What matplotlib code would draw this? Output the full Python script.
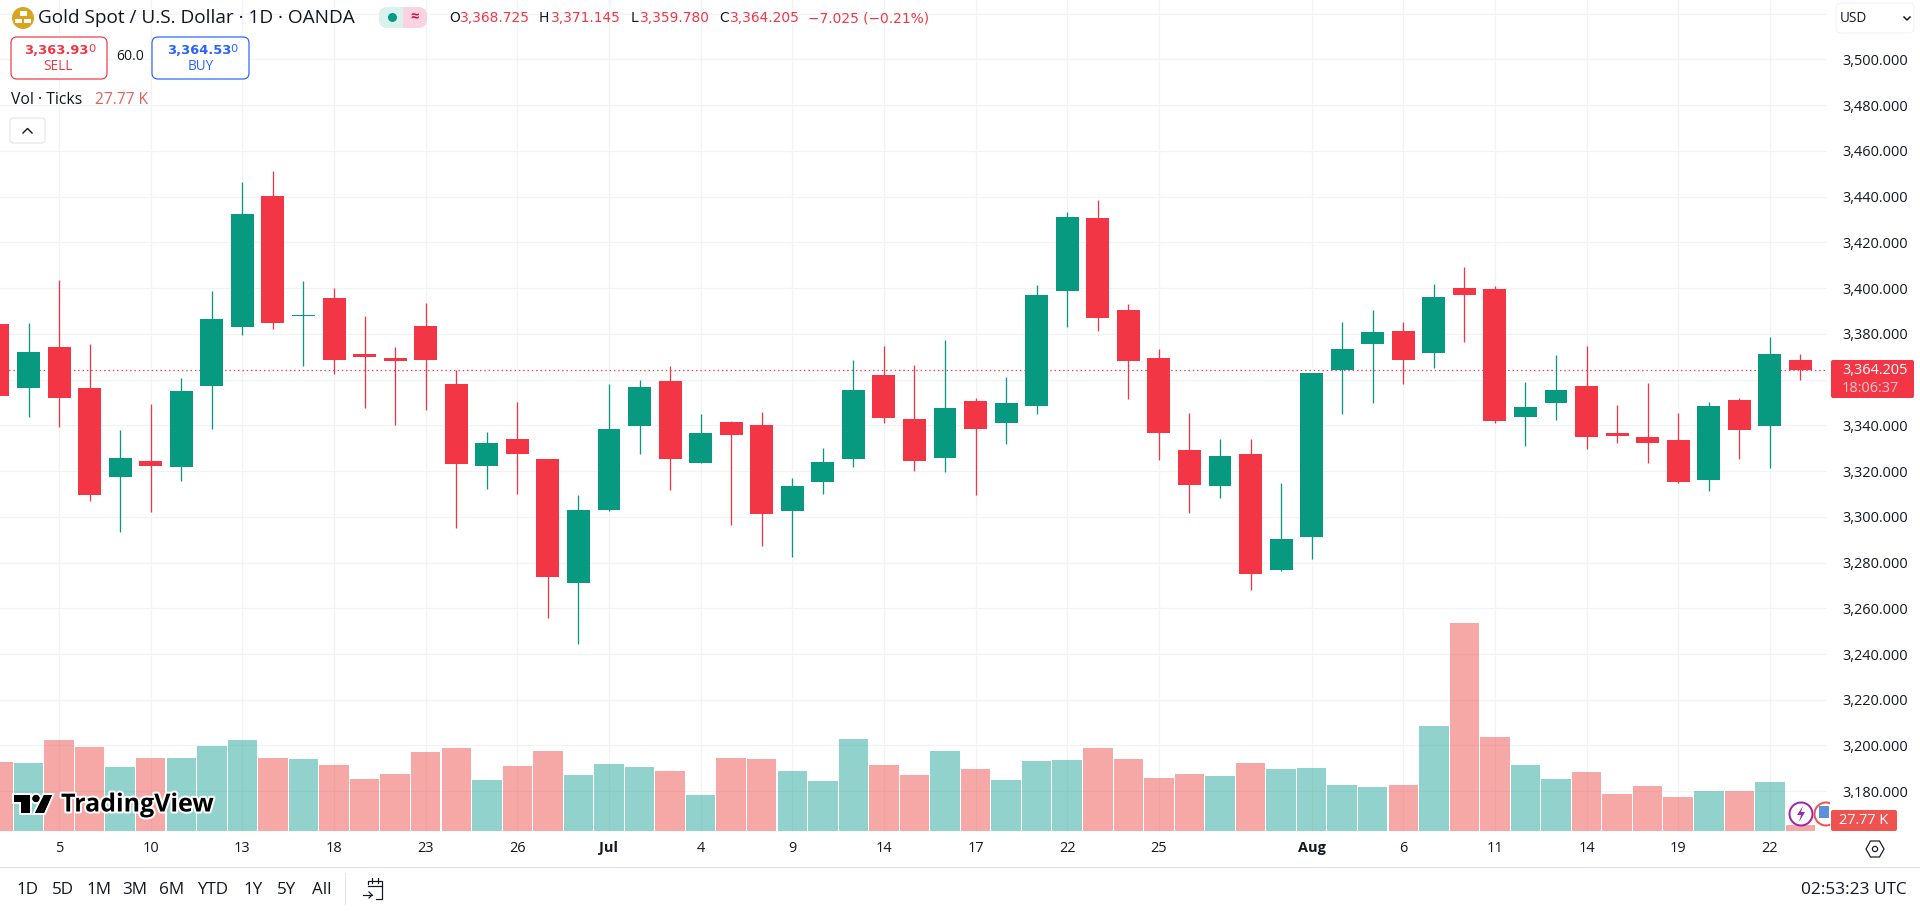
"""Gold spot daily candles with tick volume, TradingView style."""

import matplotlib

matplotlib.use("Agg")

import matplotlib.patheffects as pe
import matplotlib.pyplot as plt
from matplotlib.patches import Circle, FancyBboxPatch, Polygon, Rectangle

plt.rcParams["font.family"] = ["Open Sans", "DejaVu Sans"]

opens = [3384.3, 3356.3, 3374.3, 3356.3, 3317.4, 3324.4, 3321.8, 3357.2, 3383.0, 3440.3,
         3388.0, 3395.7, 3371.2, 3369.5, 3383.4, 3358.1, 3322.2, 3334.0, 3325.3, 3271.2,
         3303.0, 3339.7, 3359.4, 3323.5, 3341.5, 3340.2, 3302.6, 3315.2, 3325.3, 3362.0,
         3342.8, 3325.7, 3350.7, 3341.0, 3348.5, 3398.8, 3430.7, 3390.4, 3369.5, 3329.2,
         3313.5, 3327.5, 3276.8, 3291.2, 3364.2, 3375.6, 3381.3, 3371.6, 3400.1, 3399.6,
         3343.7, 3349.8, 3357.2, 3336.7, 3334.9, 3333.6, 3316.1, 3351.1, 3339.7, 3368.725]
highs = [3384.3, 3384.9, 3403.6, 3375.6, 3338.0, 3349.3, 3360.7, 3398.8, 3446.4, 3451.4,
         3403.1, 3400.1, 3388.0, 3374.3, 3393.7, 3364.2, 3337.1, 3350.2, 3325.3, 3309.6,
         3358.1, 3359.8, 3366.0, 3345.0, 3341.9, 3345.8, 3317.0, 3330.1, 3368.6, 3374.7,
         3366.4, 3377.3, 3352.0, 3361.1, 3401.4, 3433.3, 3438.5, 3393.1, 3373.4, 3345.4,
         3334.0, 3334.0, 3314.9, 3362.9, 3385.2, 3390.4, 3385.2, 3401.8, 3409.2, 3400.9,
         3359.0, 3370.8, 3374.7, 3348.9, 3358.5, 3345.4, 3350.2, 3352.0, 3378.6, 3371.145]
lows = [3352.8, 3343.5, 3339.1, 3306.9, 3293.4, 3302.1, 3315.7, 3338.4, 3379.5, 3382.1,
        3366.0, 3362.5, 3347.6, 3340.2, 3346.7, 3295.1, 3312.2, 3310.0, 3255.8, 3244.5,
        3302.7, 3327.5, 3311.7, 3323.5, 3296.4, 3287.3, 3282.4, 3310.0, 3321.8, 3341.0,
        3320.0, 3319.6, 3309.6, 3331.9, 3345.0, 3383.0, 3381.3, 3351.5, 3324.9, 3301.7,
        3308.2, 3268.0, 3276.5, 3281.6, 3345.0, 3349.8, 3358.1, 3365.1, 3376.5, 3341.0,
        3331.0, 3342.3, 3329.7, 3332.3, 3323.5, 3314.8, 3311.3, 3325.3, 3321.4, 3359.78]
closes = [3352.8, 3372.1, 3352.0, 3309.6, 3325.7, 3322.2, 3355.0, 3386.5, 3432.4, 3384.8,
          3388.4, 3368.6, 3369.9, 3368.1, 3368.6, 3323.1, 3332.3, 3327.5, 3273.8, 3303.0,
          3338.4, 3356.8, 3325.3, 3336.7, 3335.8, 3301.2, 3313.5, 3324.0, 3355.5, 3343.2,
          3324.4, 3347.6, 3338.4, 3349.8, 3397.0, 3431.1, 3386.9, 3368.1, 3336.7, 3313.9,
          3326.6, 3275.0, 3290.3, 3362.9, 3373.4, 3380.8, 3368.6, 3396.1, 3397.0, 3341.9,
          3348.0, 3355.5, 3334.9, 3335.4, 3332.3, 3315.2, 3348.5, 3338.0, 3371.2, 3364.205]
volumes_k = [334.5, 329.7, 441.7, 407.6, 310.2, 354.0, 354.0, 412.5, 441.7, 354.0,
             349.2, 319.9, 251.7, 276.1, 383.3, 402.8, 246.8, 315.1, 388.1, 271.2,
             324.8, 310.2, 290.7, 173.8, 354.0, 349.2, 290.7, 242.0, 446.6, 319.9,
             271.2, 388.1, 300.4, 246.8, 339.4, 344.3, 402.8, 349.2, 256.6, 276.1,
             266.3, 329.7, 300.4, 305.3, 222.5, 212.7, 222.5, 509.9, 1011.8, 456.3,
             319.9, 251.7, 285.8, 178.6, 217.6, 164.0, 193.3, 193.3, 237.1, 27.77]

date_tick_idx = [2, 5, 8, 11, 14, 17, 20, 23, 26, 29, 32, 35, 38, 43, 46, 49, 52, 55, 58]
date_tick_labels = ["5", "10", "13", "18", "23", "26", "Jul", "4", "9", "14", "17", "22", "25",
                    "Aug", "6", "11", "14", "19", "22"]
month_labels = ["Jul", "Aug"]
price_ticks = list(range(3180, 3521, 20))
unlabelled_prices = [3360, 3520]  # sit behind the price tag and the currency box
last_price = 3364.205
range_buttons = ["1D", "5D", "1M", "3M", "6M", "YTD", "1Y", "5Y", "All"]

UP = "#089981"
DOWN = "#f23645"
VOL_UP = "#26a69a"
VOL_DOWN = "#ef5350"
GRID = "#f2f3f5"
INK = "#131722"
BLUE = "#2962ff"
WIDE = ["DejaVu Sans"]

W, H = 1920, 911
PANE_RIGHT, PANE_BOTTOM = 1827, 831
FS = 0.72  # px -> pt at dpi 100

fig = plt.figure(figsize=(W / 100, H / 100), dpi=100, facecolor="white")
pane = [0, 1 - PANE_BOTTOM / H, PANE_RIGHT / W, PANE_BOTTOM / H]

# volume lives underneath, and also carries the grid
ax_vol = fig.add_axes(pane, zorder=1)
ax = fig.add_axes(pane, zorder=2, facecolor="none")

x = list(range(len(opens)))
is_up = [c >= o for o, c in zip(opens, closes)]

ax_vol.bar(x, volumes_k, width=0.965,
           color=[VOL_UP if u else VOL_DOWN for u in is_up], alpha=0.5, linewidth=0, zorder=3)
ax_vol.set_ylim(0, 4047)
ax_vol.set_yticks([])

xlim = (0.0655, 59.87)
ylim = (3162.6, 3526.0)
ax_vol.set_xlim(*xlim)
ax_vol.set_xticks([])
for i in date_tick_idx:
    ax_vol.axvline(i, color=GRID, lw=1.2 * FS, zorder=1)

ax.set_xlim(*xlim)
ax.set_ylim(*ylim)
for p in price_ticks:
    ax_vol.axhline((p - ylim[0]) / (ylim[1] - ylim[0]) * 4047, color=GRID, lw=1.2 * FS, zorder=1)

ax.axhline(last_price, color=DOWN, lw=1.2 * FS, ls=(0, (1.2, 2.4)), zorder=2)
ax.vlines(x, lows, highs, colors=[UP if u else DOWN for u in is_up], lw=1.3 * FS, zorder=3)
ax.bar(x, [abs(c - o) for o, c in zip(opens, closes)], bottom=[min(o, c) for o, c in zip(opens, closes)],
       width=0.75, color=[UP if u else DOWN for u in is_up], linewidth=0, zorder=4)

ax.yaxis.tick_right()
ax.set_yticks(price_ticks)
ax.set_yticklabels(["" if p in unlabelled_prices else f"{p:,.3f}" for p in price_ticks])
ax.tick_params(axis="y", length=0, pad=15 * FS, labelsize=14.5 * FS, labelcolor=INK)
ax.set_xticks(date_tick_idx)
ax.set_xticklabels(date_tick_labels)
ax.tick_params(axis="x", length=0, pad=10 * FS, labelsize=14.5 * FS, labelcolor=INK)
for lbl in ax.get_xticklabels():
    if lbl.get_text() in month_labels:
        lbl.set_fontweight("bold")
for a in (ax, ax_vol):
    for s in a.spines.values():
        s.set_visible(False)

# everything around the chart, in pixel coordinates
ui = fig.add_axes([0, 0, 1, 1], zorder=5, facecolor="none")
ui.set_xlim(0, W)
ui.set_ylim(H, 0)
ui.axis("off")


def label(px, py, s, size=14.5, color=INK, ha="left", weight="normal", **kw):
    return ui.text(px, py, s, fontsize=size * FS, color=color, ha=ha, va="center", fontweight=weight, **kw)


def box(x0, y0, x1, y1, fc="white", ec="none", r=4, lw=1.0):
    ui.add_patch(FancyBboxPatch((x0 + r, y0 + r), x1 - x0 - 2 * r, y1 - y0 - 2 * r,
                                boxstyle=f"round,pad={r},rounding_size={r}",
                                fc=fc, ec=ec, lw=lw * FS))


# title row
ui.add_patch(Circle((23, 18), 11, fc="#d9a520", ec="none"))
for bx, by in [(23, 13.5), (18.5, 21), (27.5, 21)]:
    ui.add_patch(Rectangle((bx - 3.5, by - 2.2), 7, 4.4, fc="white", ec="none"))
label(38, 18, "Gold Spot / U.S. Dollar · 1D · OANDA", size=19)

box(379, 7, 427, 28, fc="#fbd3e0", r=9)
box(379, 7, 415, 28, fc="#d9f2ee", r=9)
ui.add_patch(Rectangle((403, 7), 12, 21, fc="#fbd3e0", ec="none"))
ui.add_patch(Circle((392.5, 17.5), 4.5, fc=UP, ec="none"))
label(414.5, 17, "≈", size=15, color="#c2185b", ha="center", weight="bold")

for px, s, col in [(449, "O", INK), (460, "3,368.725", DOWN), (539, "H", INK), (551, "3,371.145", DOWN),
                   (631, "L", INK), (640, "3,359.780", DOWN), (719, "C", INK), (730, "3,364.205", DOWN),
                   (808, "−7.025 (−0.21%)", DOWN)]:
    label(px, 18, s, size=13.8, color=col, family=WIDE)

# sell / buy
box(11, 37, 107, 79, ec=DOWN, r=6, lw=1.2)
box(152, 37, 249, 79, ec=BLUE, r=6, lw=1.2)
label(24.5, 50, "3,363.93", size=13, color=DOWN, weight="bold", family=WIDE)
label(88, 49, "0", size=11.5, color=DOWN, family=WIDE)
label(58, 67, "SELL", size=13.5, color=DOWN, ha="center")
label(130, 57, "60.0", size=14, ha="center")
label(167, 50, "3,364.53", size=13, color=BLUE, weight="bold", family=WIDE)
label(230, 49, "0", size=11.5, color=BLUE, family=WIDE)
label(201, 67, "BUY", size=13.5, color=BLUE, ha="center")

label(11, 100, "Vol · Ticks", size=15.8)
label(95, 100, "27.77 K", size=15.5, color="#e2615c")
box(10, 118, 45, 143, ec="#e0e3eb", r=3)
ui.plot([23, 27.5, 32], [133, 128.5, 133], color=INK, lw=1.4 * FS)

# currency selector
box(1836, 3, 1914, 33, ec="#f0f3fa", r=5)
label(1840, 19, "USD", size=13.5)
ui.plot([1904, 1907, 1910], [17, 20, 17], color=INK, lw=1.5 * FS)

# events, clipped by the price scale
ui.add_patch(Circle((1801, 814), 11.5, fc="white", ec="#9c27b0", lw=2 * FS))
ui.add_patch(Polygon([(1803, 806), (1797, 815), (1801, 815), (1799, 822), (1805, 812), (1801, 812)],
                     fc="#9c27b0", ec="none"))
ui.add_patch(Circle((1826, 814), 11.5, fc="white", ec=VOL_DOWN, lw=2 * FS))
ui.add_patch(Rectangle((1819, 806), 10, 12, fc="#5b8fd9", ec="none"))
ui.add_patch(Rectangle((1830, 798), 90, 38, fc="white", ec="none"))

# last price and volume tags
box(1831, 360, 1914, 398, fc=DOWN, r=2)
label(1842, 370, "3,364.205", size=14.5, color="white")
label(1842, 388, "18:06:37", size=14.5, color="#fbc9ce")
box(1831, 810, 1897, 831, fc=VOL_DOWN, r=2)
label(1864, 820.5, "27.77 K", size=14.5, color="white", ha="center")

# TradingView watermark
halo = [pe.withStroke(linewidth=4 * FS, foreground="white")]
for art in (Polygon([(13.5, 795), (30, 795), (30, 813), (21, 813), (21, 802), (13.5, 802)], fc="black", ec="none"),
            Circle((36, 798.5), 3.6, fc="black", ec="none"),
            Polygon([(44, 795), (52, 795), (44, 813), (35, 813)], fc="black", ec="none")):
    art.set_path_effects(halo + [pe.Normal()])
    ui.add_patch(art)
label(61, 805, "TradingView", size=25, color="black", weight="bold", path_effects=halo)

# bottom bars
ui.plot([0, W], [866.5, 866.5], color="#e0e3eb", lw=1.3 * FS)
for px, s in zip([27.5, 62.5, 98.6, 135, 172, 212.5, 253, 287, 322], range_buttons):
    label(px, 890.5, s, size=17, ha="center")
ui.plot([345, 345], [873, 904], color="#e0e3eb", lw=1 * FS)
ui.plot([368, 368, 382, 382, 376], [884, 881, 881, 899, 899], color=INK, lw=1.2 * FS)
ui.plot([368, 382], [886, 886], color=INK, lw=1.2 * FS)
ui.plot([372, 372], [878, 883], color=INK, lw=1.2 * FS)
ui.plot([378, 378], [878, 883], color=INK, lw=1.2 * FS)
ui.plot([363, 372], [895, 895], color=INK, lw=1.2 * FS)
ui.plot([369, 372, 369], [892, 895, 898], color=INK, lw=1.2 * FS)
label(1907, 890.5, "02:53:23 UTC", size=17.3, ha="right")

ui.add_patch(Polygon([(1866, 849), (1870.5, 841), (1879.5, 841), (1884, 849), (1879.5, 857), (1870.5, 857)],
                     fc="white", ec=INK, lw=1.2 * FS))
ui.add_patch(Circle((1875, 849), 2.6, fc="white", ec=INK, lw=1.2 * FS))

fig.savefig("out.png", dpi=100, facecolor="white")
